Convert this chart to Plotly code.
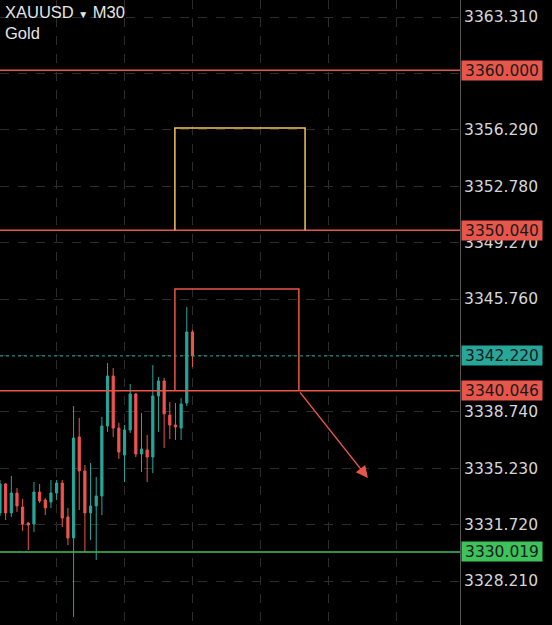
import plotly.graph_objects as go

# XAUUSD M30 candles (oldest -> newest)
opens = [3332.45, 3334.25, 3332.45, 3333.69, 3332.82, 3331.82, 3331.76, 3333.75, 3333.25, 3333.13,
         3333.69, 3334.31, 3332.20, 3330.89, 3337.17, 3335.06, 3332.45, 3332.88, 3333.50, 3337.86,
         3340.97, 3337.73, 3336.05, 3337.61, 3339.85, 3336.12, 3336.37, 3335.93, 3339.73, 3340.66,
         3338.54, 3337.92, 3337.73, 3339.29, 3343.71]
highs = [3334.50, 3334.31, 3334.75, 3334.00, 3333.32, 3331.89, 3334.37, 3334.25, 3333.38, 3334.50,
         3334.50, 3334.50, 3332.76, 3339.10, 3338.36, 3335.43, 3335.56, 3334.69, 3338.42, 3341.78,
         3341.47, 3338.05, 3337.92, 3340.47, 3339.91, 3338.67, 3337.30, 3341.65, 3340.91, 3340.85,
         3339.35, 3339.29, 3339.60, 3345.26, 3343.83]
lows = [3332.26, 3332.01, 3332.20, 3332.51, 3331.33, 3330.14, 3331.26, 3333.07, 3332.32, 3332.76,
        3333.25, 3331.57, 3330.45, 3325.97, 3332.63, 3330.02, 3330.77, 3329.52, 3332.32, 3337.49,
        3337.17, 3335.81, 3334.37, 3337.42, 3335.93, 3335.00, 3334.37, 3334.93, 3337.49, 3336.49,
        3337.05, 3336.99, 3336.99, 3339.10, 3341.53]
closes = [3334.25, 3332.45, 3333.69, 3332.88, 3331.76, 3331.70, 3333.75, 3333.19, 3332.76, 3333.69,
          3334.31, 3332.13, 3330.89, 3337.11, 3335.06, 3332.45, 3332.88, 3333.50, 3337.86, 3340.97,
          3337.73, 3336.24, 3337.61, 3339.85, 3336.12, 3336.43, 3335.93, 3339.73, 3340.66, 3338.61,
          3337.92, 3337.80, 3339.23, 3343.71, 3342.22]

tick_vals = [3363.31, 3359.80, 3356.29, 3352.78, 3349.27, 3345.76, 3342.25,
             3338.74, 3335.23, 3331.72, 3328.21]
# labels at 3359.80 and 3342.25 sit under the price boxes, so they stay blank
tick_text = ['3363.310', '', '3356.290', '3352.780', '3349.270', '3345.760', '',
             '3338.740', '3335.230', '3331.720', '3328.210']
time_grid = [10, 22, 34, 46, 58, 70]

# drawn levels: price, colour
level_prices = [3360.000, 3350.040, 3340.046, 3330.019]
level_colors = ['#e8564b', '#e8564b', '#e8564b', '#3cc35c']
last_price = 3342.22

# drawn zones: [bar_start, bar_end, price_low, price_high]
yellow_zone = [30.9, 53.9, 3350.04, 3356.40]
red_zone = [30.9, 52.8, 3340.046, 3346.38]
arrow_from = [52.8, 3340.046]
arrow_to = [65.0, 3334.62]

UP = '#27a69a'
DOWN = '#ef5350'
DOMAIN_R = 460 / 552
LABEL_FONT = dict(family='DejaVu Sans', size=15.5, color='#1a1a1a')

fig = go.Figure()
fig.add_trace(
    go.Candlestick(
        x=list(range(len(opens))),
        open=opens, high=highs, low=lows, close=closes,
        increasing=dict(line=dict(color=UP, width=1), fillcolor=UP),
        decreasing=dict(line=dict(color=DOWN, width=1), fillcolor=DOWN),
        showlegend=False,
        hoverinfo='skip',
    )
)

# horizontal levels
for p, c in zip(level_prices, level_colors):
    fig.add_shape(type='line', xref='x domain', yref='y', x0=0, x1=1, y0=p, y1=p,
                  line=dict(color=c, width=1.5))
    fig.add_annotation(xref='paper', yref='y', x=DOMAIN_R + 0.002, y=p, xanchor='left',
                       text='%.3f' % p, showarrow=False, bgcolor=c, borderpad=1,
                       width=78, height=17, font=LABEL_FONT)

fig.add_shape(type='line', xref='x domain', yref='y', x0=0, x1=1, y0=last_price, y1=last_price,
              line=dict(color=UP, width=1, dash='3px,3px'))
fig.add_annotation(xref='paper', yref='y', x=DOMAIN_R + 0.002, y=last_price, xanchor='left',
                   text='%.3f' % last_price, showarrow=False, bgcolor=UP, borderpad=1,
                   width=78, height=17, font=LABEL_FONT)

# zones (open at the bottom edge, drawn as three sides)
for zone, c in [(yellow_zone, '#f2c45a'), (red_zone, '#e8564b')]:
    x0, x1, y0, y1 = zone
    fig.add_shape(type='path', xref='x', yref='y',
                  path=f'M {x0} {y0} L {x0} {y1} L {x1} {y1} L {x1} {y0}',
                  line=dict(color=c, width=1.5))

fig.add_annotation(xref='x', yref='y', axref='x', ayref='y',
                   x=arrow_to[0], y=arrow_to[1], ax=arrow_from[0], ay=arrow_from[1],
                   text='', showarrow=True, arrowhead=2, arrowsize=1.6, arrowwidth=1.5,
                   arrowcolor='#e8564b')

# symbol header
fig.add_annotation(xref='paper', yref='paper', x=0.006, y=0.999, xanchor='left', yanchor='top',
                   text='XAUUSD <span style="font-size:10px">▼</span> M30<br>Gold', align='left',
                   showarrow=False,
                   font=dict(family='Liberation Sans', size=16.5, color='#e6e6e6'))

fig.update_layout(
    width=552, height=625,
    margin=dict(l=0, r=0, t=0, b=0),
    paper_bgcolor='#000000', plot_bgcolor='#000000',
    boxgap=0.45,
    xaxis=dict(domain=[0, DOMAIN_R], range=[0, 81.27], rangeslider=dict(visible=False),
               tickvals=time_grid, showticklabels=False, ticks='',
               showgrid=True, gridcolor='#2c2c2c', griddash='dash', gridwidth=1,
               zeroline=False, showline=False),
    yaxis=dict(side='right', range=[3325.475, 3364.368], tickvals=tick_vals,
               ticktext=tick_text, ticks='', ticklabelstandoff=0,
               tickfont=dict(family='DejaVu Sans', size=15.5, color='#d6d6d6'),
               showgrid=True, gridcolor='#2c2c2c', griddash='dash', gridwidth=1,
               zeroline=False, showline=True, linecolor='#555555', linewidth=1),
)

fig.write_html("out.html", config={'displayModeBar': False},
               post_script="document.body.style.margin='0px';"
                           "document.body.style.background='#000';")
